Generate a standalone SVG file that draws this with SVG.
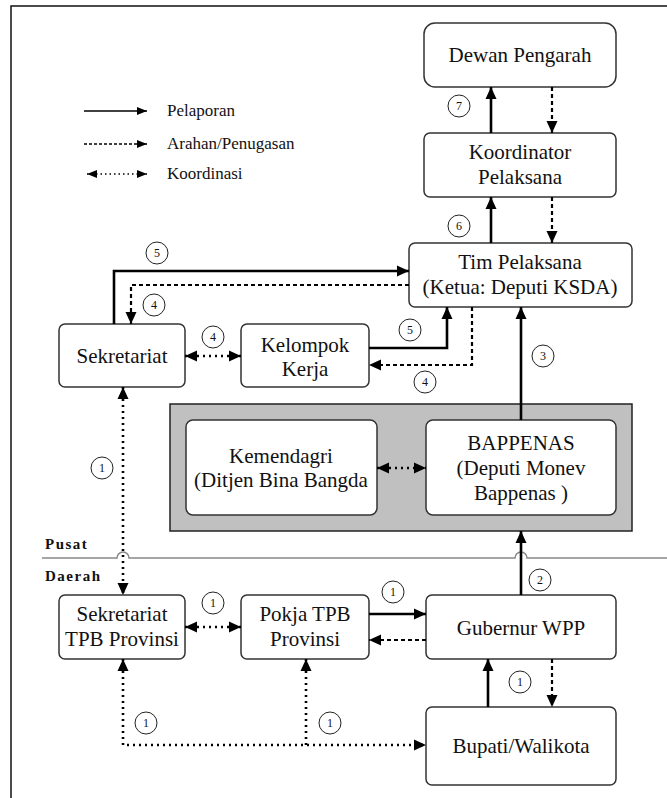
<svg xmlns="http://www.w3.org/2000/svg" width="667" height="798" viewBox="0 0 667 798">
<defs>
<marker id="ah" markerUnits="userSpaceOnUse" markerWidth="12" markerHeight="12" viewBox="0 0 12 12" refX="12" refY="6" orient="auto-start-reverse"><path d="M0,0.5 L12,6 L0,11.5 z" fill="#000"/></marker>
<marker id="ahs" markerUnits="userSpaceOnUse" markerWidth="10" markerHeight="10" viewBox="0 0 10 10" refX="10" refY="5" orient="auto-start-reverse"><path d="M0,1 L10,5 L0,9 z" fill="#000"/></marker>
<style>
.box{fill:#fff;stroke:#333;stroke-width:1.5}
.t{font-family:'Liberation Serif','DejaVu Serif',serif;font-size:21px;fill:#111;text-anchor:middle}
.lg{font-family:'Liberation Serif','DejaVu Serif',serif;font-size:17px;fill:#111}
.num{font-family:'Liberation Serif','DejaVu Serif',serif;font-size:12px;fill:#111;text-anchor:middle}
.c{fill:#fff;stroke:#222;stroke-width:1}
.s{fill:none;stroke:#000;stroke-width:2.6;marker-end:url(#ah)}
.d{fill:none;stroke:#000;stroke-width:2.2;stroke-dasharray:4 3;marker-end:url(#ah)}
.o{fill:none;stroke:#000;stroke-width:2.6;stroke-dasharray:2 4;marker-start:url(#ah);marker-end:url(#ah)}
.ps{font-family:'Liberation Serif','DejaVu Serif',serif;font-size:15px;font-weight:bold;letter-spacing:1.5px;fill:#111}
</style>
</defs>
<rect width="667" height="798" fill="#fff"/>
<path d="M11,798 V6 H667" fill="none" stroke="#111" stroke-width="1.5"/>

<g id="legend">
<path d="M84,111 H147" fill="none" stroke="#000" stroke-width="1.3" marker-end="url(#ahs)"/>
<path d="M84,144 H147" fill="none" stroke="#000" stroke-width="1.3" stroke-dasharray="3 2" marker-end="url(#ahs)"/>
<path d="M87,174 H147" fill="none" stroke="#000" stroke-width="1.3" stroke-dasharray="1.5 3" marker-start="url(#ahs)" marker-end="url(#ahs)"/>
<text class="lg" x="167" y="116">Pelaporan</text>
<text class="lg" x="167" y="149">Arahan/Penugasan</text>
<text class="lg" x="167" y="179">Koordinasi</text>
</g>

<g id="region-line">
<path d="M42,558 H117 A6,6 0 0 1 129,558 H515 A6,6 0 0 1 527,558 H667" fill="none" stroke="#888" stroke-width="1.5"/>
<text class="ps" x="45" y="549">Pusat</text>
<text class="ps" x="45" y="581">Daerah</text>
</g>

<g id="pusat-group"><rect x="170" y="404" width="462" height="127" fill="#c0c0c0" stroke="#222" stroke-width="1.5"/></g>

<g id="dewan"><rect class="box" x="424" y="23" width="192" height="64" rx="11"/><text class="t" x="520" y="62">Dewan Pengarah</text></g>
<g id="koordinator"><rect class="box" x="424" y="133" width="192" height="64" rx="6"/><text class="t" x="520" y="159">Koordinator</text><text class="t" x="520" y="184">Pelaksana</text></g>
<g id="tim"><rect class="box" x="409" y="243" width="223" height="64" rx="6"/><text class="t" x="520" y="269">Tim Pelaksana</text><text class="t" x="520" y="294">(Ketua: Deputi KSDA)</text></g>
<g id="sekretariat"><rect class="box" x="59" y="324" width="126" height="63" rx="6"/><text class="t" x="122" y="363">Sekretariat</text></g>
<g id="kelompok"><rect class="box" x="241" y="324" width="128" height="63" rx="6"/><text class="t" x="305" y="352">Kelompok</text><text class="t" x="305" y="376">Kerja</text></g>
<g id="kemendagri"><rect class="box" x="186" y="420" width="191" height="95" rx="7"/><text class="t" x="281" y="463">Kemendagri</text><text class="t" x="281" y="487">(Ditjen Bina Bangda</text></g>
<g id="bappenas"><rect class="box" x="426" y="420" width="190" height="95" rx="7"/><text class="t" x="521" y="450">BAPPENAS</text><text class="t" x="521" y="475">(Deputi Monev</text><text class="t" x="521" y="500">Bappenas )</text></g>
<g id="sek-tpb"><rect class="box" x="59" y="595" width="126" height="64" rx="6"/><text class="t" x="122" y="621">Sekretariat</text><text class="t" x="122" y="646">TPB Provinsi</text></g>
<g id="pokja"><rect class="box" x="241" y="595" width="128" height="64" rx="6"/><text class="t" x="305" y="621">Pokja TPB</text><text class="t" x="305" y="646">Provinsi</text></g>
<g id="gubernur"><rect class="box" x="426" y="595" width="190" height="64" rx="6"/><text class="t" x="521" y="635">Gubernur WPP</text></g>
<g id="bupati"><rect class="box" x="426" y="707" width="190" height="78" rx="6"/><text class="t" x="521" y="753">Bupati/Walikota</text></g>

<g id="connectors">
<path class="s" d="M491,133 V87"/>
<path class="d" d="M552,87 V133"/>
<path class="s" d="M491,243 V197"/>
<path class="d" d="M552,197 V243"/>
<path class="s" d="M114,324 V271 H409"/>
<path class="d" d="M409,285 H131 V324"/>
<path class="o" d="M185,356 H241"/>
<path class="s" d="M369,348 H447 V307"/>
<path class="d" d="M472,307 V365 H369"/>
<path class="s" d="M521,420 V307"/>
<path class="o" d="M377,468 H426"/>
<path class="o" d="M123,387 V595"/>
<path class="s" d="M521,595 V531"/>
<path class="s" d="M369,614 H426"/>
<path class="d" d="M426,640 H369"/>
<path class="o" d="M185,627 H241"/>
<path class="s" d="M488,707 V659"/>
<path class="d" d="M552,659 V707"/>
<path class="o" d="M123,659 V745 H426"/>
<path fill="none" stroke="#000" stroke-width="2.6" stroke-dasharray="2 4" marker-start="url(#ah)" d="M306,659 V745"/>
</g>

<g id="labels">
<circle class="c" cx="459" cy="106" r="11"/><text class="num" x="459" y="110">7</text>
<circle class="c" cx="459" cy="226" r="11"/><text class="num" x="459" y="230">6</text>
<circle class="c" cx="157" cy="253" r="11"/><text class="num" x="157" y="257">5</text>
<circle class="c" cx="154" cy="305" r="11"/><text class="num" x="154" y="309">4</text>
<circle class="c" cx="213" cy="337" r="11"/><text class="num" x="213" y="341">4</text>
<circle class="c" cx="410" cy="330" r="11"/><text class="num" x="410" y="334">5</text>
<circle class="c" cx="425" cy="382" r="11"/><text class="num" x="425" y="386">4</text>
<circle class="c" cx="543" cy="356" r="11"/><text class="num" x="543" y="360">3</text>
<circle class="c" cx="102" cy="468" r="11"/><text class="num" x="102" y="472">1</text>
<circle class="c" cx="540" cy="580" r="11"/><text class="num" x="540" y="584">2</text>
<circle class="c" cx="213" cy="603" r="11"/><text class="num" x="213" y="607">1</text>
<circle class="c" cx="393" cy="592" r="11"/><text class="num" x="393" y="596">1</text>
<circle class="c" cx="520" cy="682" r="11"/><text class="num" x="520" y="686">1</text>
<circle class="c" cx="146" cy="723" r="11"/><text class="num" x="146" y="727">1</text>
<circle class="c" cx="330" cy="723" r="11"/><text class="num" x="330" y="727">1</text>
</g>
</svg>
